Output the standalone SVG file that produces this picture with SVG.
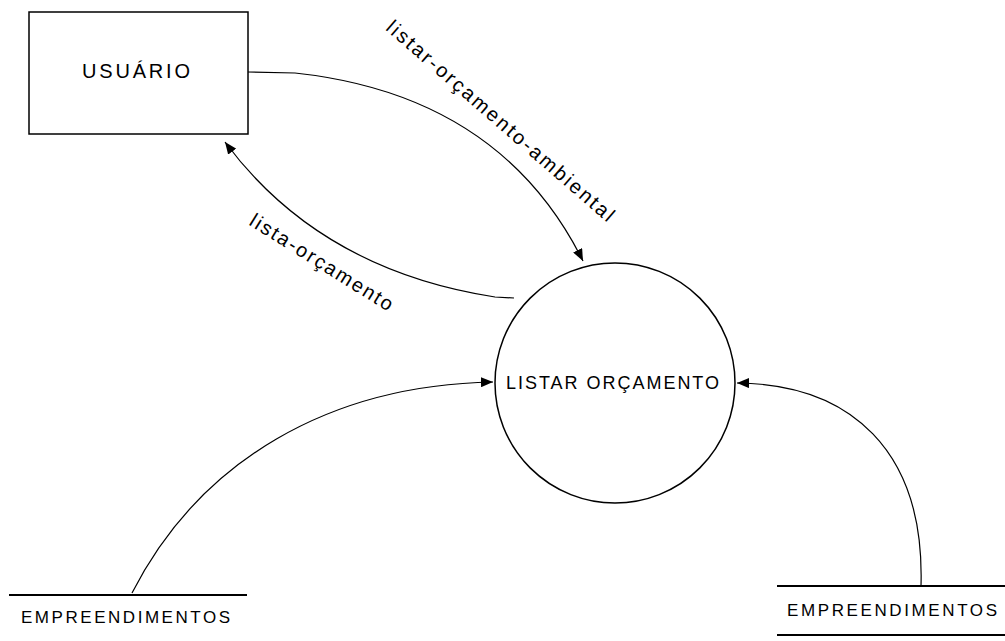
<svg xmlns="http://www.w3.org/2000/svg" width="1005" height="641" viewBox="0 0 1005 641">
<defs>
<style>
text{font-family:"Liberation Sans",Arial,sans-serif;fill:#000}
.shape{fill:#fff;stroke:#000;stroke-width:1.5}
.store{stroke:#000;stroke-width:2}
.flow{fill:none;stroke:#000;stroke-width:1.2;marker-end:url(#arrow)}
</style>
<marker id="arrow" viewBox="0 0 12 10" refX="12" refY="5" markerWidth="12" markerHeight="10" markerUnits="userSpaceOnUse" orient="auto">
<path d="M0,0 L12,5 L0,10 Z" fill="#000"/>
</marker>
</defs>
<rect width="1005" height="641" fill="#fff"/>
<g id="connectors">
<path class="flow" d="M248,72 L295,73 Q500,95 583,261"/>
<path class="flow" d="M514,298 L495,297 Q320,270 225,142"/>
<path class="flow" d="M132,593 C200,460 330,385 493,382"/>
<path class="flow" d="M921,586 C925,450 850,384 737,383"/>
<text font-size="20" text-anchor="middle" x="496" y="126" textLength="295" lengthAdjust="spacing" transform="rotate(41 496 126)">listar-orçamento-ambiental</text>
<text font-size="20" text-anchor="middle" x="318" y="268" textLength="165" lengthAdjust="spacing" transform="rotate(32 318 268)">lista-orçamento</text>
</g>
<g id="usuario">
<rect class="shape" x="29" y="12" width="219" height="122"/>
<text font-size="20" x="82" y="78" textLength="108" lengthAdjust="spacing">USUÁRIO</text>
</g>
<g id="listar-orcamento">
<circle class="shape" cx="615" cy="383" r="120"/>
<text font-size="18" x="506" y="389" textLength="213" lengthAdjust="spacing">LISTAR ORÇAMENTO</text>
</g>
<g id="empreendimentos-left">
<line class="store" x1="9" y1="595" x2="247" y2="595"/>
<text font-size="17" x="21" y="623" textLength="209" lengthAdjust="spacing">EMPREENDIMENTOS</text>
</g>
<g id="empreendimentos-right">
<line class="store" x1="777" y1="586" x2="1005" y2="586"/>
<line class="store" x1="777" y1="635" x2="1005" y2="635"/>
<text font-size="17" x="787" y="616" textLength="210" lengthAdjust="spacing">EMPREENDIMENTOS</text>
</g>
</svg>
